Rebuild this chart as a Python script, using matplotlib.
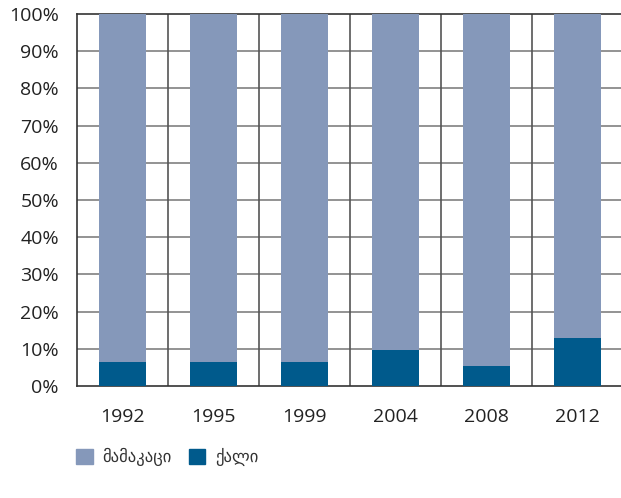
import numpy as np
import matplotlib
matplotlib.use("Agg")
import matplotlib.pyplot as plt
from matplotlib.patches import Patch

plt.rcParams["font.family"] = ["Open Sans", "DejaVu Sans"]

# 数据
years = ["1992", "1995", "1999", "2004", "2008", "2012"]
women = [6.4, 6.4, 6.4, 9.6, 5.4, 12.9]
men = [100 - w for w in women]
label_men = "მამაკაცი"
label_women = "ქალი"
c_men = "#8598BA"
c_women = "#005A8C"

fig = plt.figure(figsize=(6.21, 4.98), dpi=100)
ax = fig.add_axes([0.124, 0.225, 0.879, 0.747])

x = np.arange(len(years))
ax.bar(x, women, width=0.52, color=c_women, zorder=3)
ax.bar(x, men, width=0.52, bottom=women, color=c_men, zorder=3)

ax.set_xlim(-0.5, len(years) - 0.5)
ax.set_ylim(0, 100)
ax.set_yticks(np.arange(0, 101, 10))
ax.set_yticklabels([f"{v}%" for v in range(0, 101, 10)])
ax.set_xticks(x)
ax.set_xticklabels(years)

# 网格
for yv in range(10, 100, 10):
    ax.axhline(yv, color="#808080", lw=1.2, zorder=1)
for xv in np.arange(0.5, len(years) - 0.5, 1):
    ax.axvline(xv, color="#555555", lw=1.2, zorder=1)

for side in ["left", "bottom", "top"]:
    ax.spines[side].set_color("#333333")
    ax.spines[side].set_linewidth(1.2)
ax.spines["right"].set_visible(False)

ax.tick_params(axis="both", length=0, labelsize=14, colors="#222222")
ax.tick_params(axis="y", pad=13)
ax.tick_params(axis="x", pad=16)

handles = [Patch(color=c_men, label=label_men), Patch(color=c_women, label=label_women)]
fig.legend(handles=handles, loc="center left", bbox_to_anchor=(0.098, 0.082),
           ncol=2, frameon=False, handlelength=1.0, handleheight=1.0,
           handletextpad=0.6, columnspacing=1.0,
           prop={"family": ["DejaVu Sans"], "size": 12}, labelcolor="#333333")

fig.savefig("out.png", dpi=100)
